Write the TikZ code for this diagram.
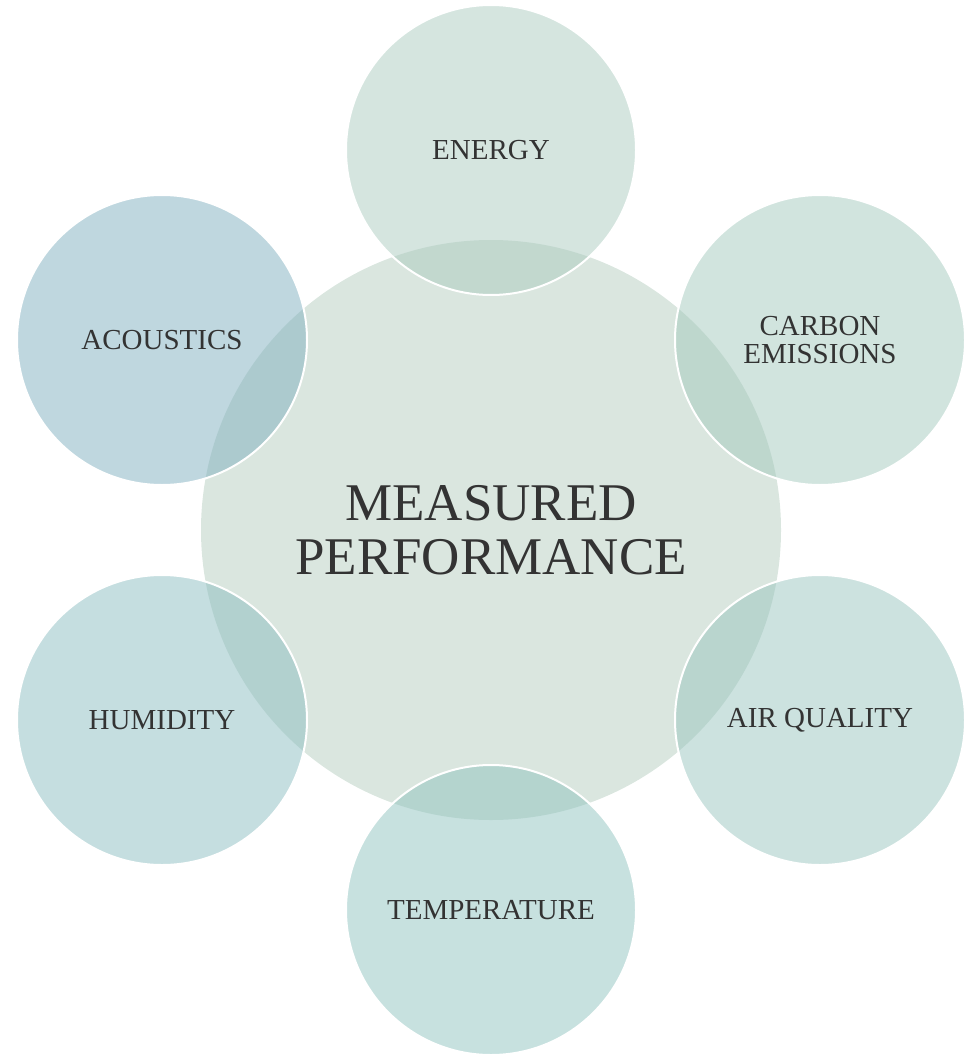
\documentclass[tikz,border=0pt]{standalone}
\usepackage{fontspec}
\setmainfont{Liberation Serif}
\definecolor{centerc}{RGB}{218,230,223}
\definecolor{energyc}{RGB}{171,203,191}
\definecolor{carbonc}{RGB}{163,201,189}
\definecolor{airc}{RGB}{153,197,191}
\definecolor{tempc}{RGB}{143,195,191}
\definecolor{humc}{RGB}{139,189,193}
\definecolor{acouc}{RGB}{127,175,191}
\definecolor{txt}{RGB}{51,51,51}
\tikzset{
  small/.style={circle, minimum size=290pt, inner sep=0pt, draw=white, line width=2pt,
    fill opacity=0.5, text opacity=1, text=txt, align=center,
    font=\fontsize{29}{28}\selectfont},
  big/.style={circle, minimum size=580pt, inner sep=0pt, fill=centerc, text=txt, align=center,
    font=\fontsize{53}{54}\selectfont}
}
\begin{document}
\begin{tikzpicture}[x=1pt,y=-1pt]
\useasboundingbox (0,0) rectangle (965,1054);
\node[big] (center) at (491,530) {MEASURED\\PERFORMANCE};
\node[small, fill=energyc] (energy) at (491,150) {ENERGY};
\node[small, fill=carbonc] (carbon) at (820,340) {CARBON\\EMISSIONS};
\node[small, fill=airc] (air) at (820,720) {AIR QUALITY};
\node[small, fill=tempc] (temp) at (491,910) {TEMPERATURE};
\node[small, fill=humc] (hum) at (162,720) {HUMIDITY};
\node[small, fill=acouc] (acou) at (162,340) {ACOUSTICS};
\end{tikzpicture}
\end{document}
